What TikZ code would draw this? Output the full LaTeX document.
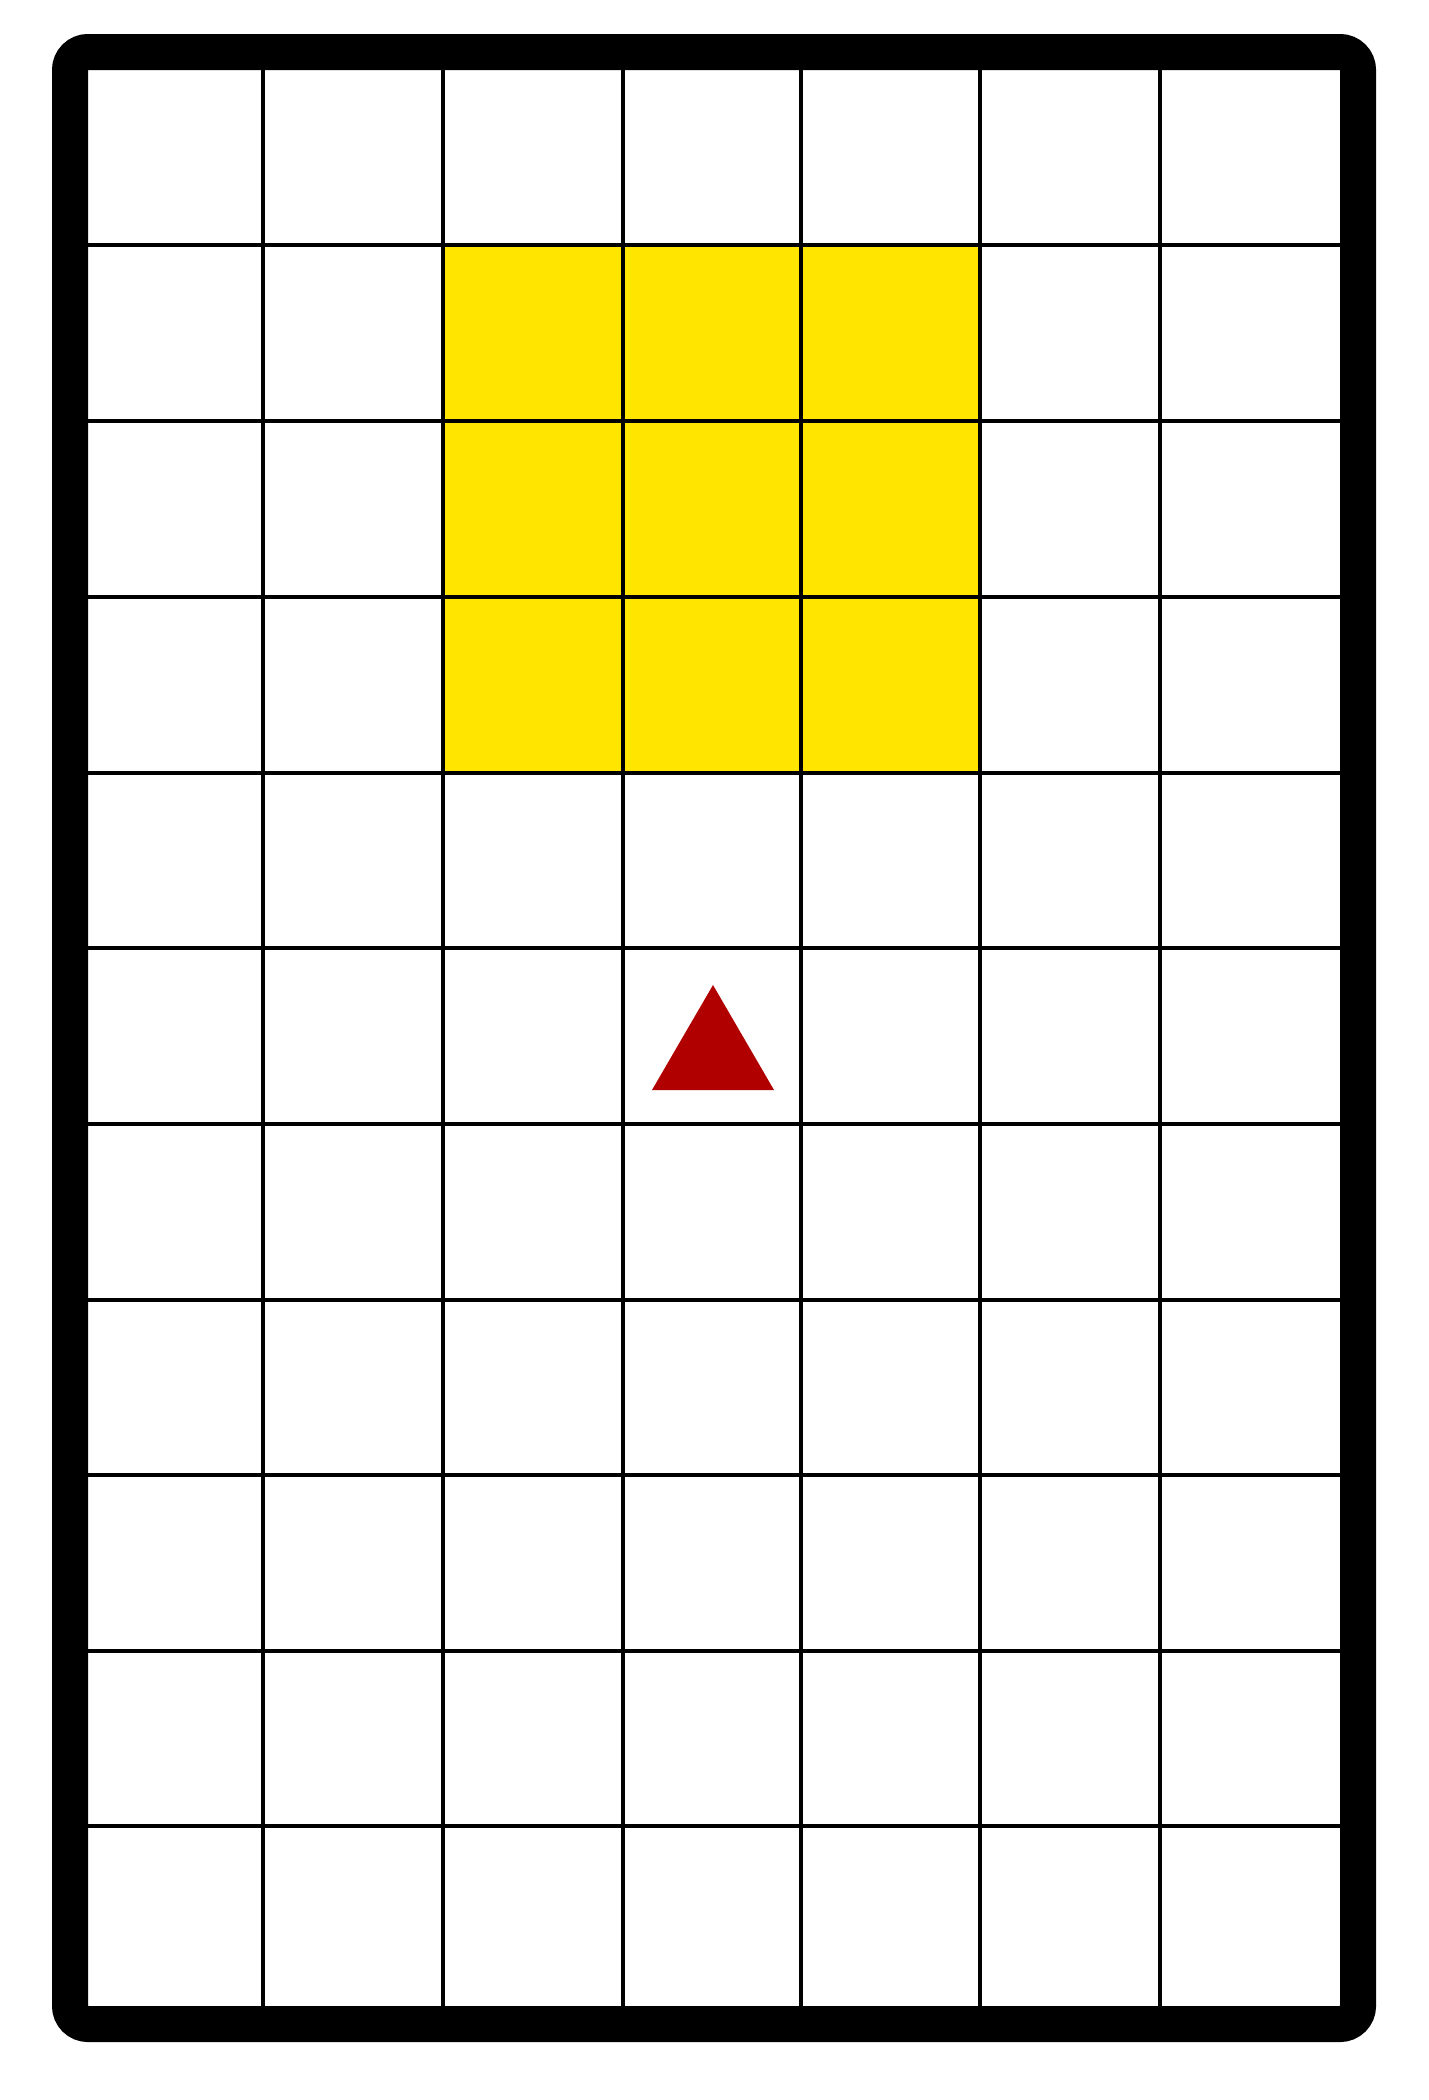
\documentclass[tikz,border=0pt]{standalone}
\usepackage{tikz}
\definecolor{cellyellow}{RGB}{255,229,0}
\definecolor{markred}{RGB}{176,0,0}
\tikzset{
  gridline/.style={black, line width=4*0.05cm},
  frameline/.style={black, line width=36*0.05cm, rounded corners=18*0.05cm},
  hilite/.style={fill=cellyellow},
  marker/.style={fill=markred}
}
\begin{document}
\begin{tikzpicture}[x=0.05cm, y=-0.05cm]
\useasboundingbox (0,0) rectangle (1428,2100);
% highlighted block
\fill[hilite] (443,245) rectangle (980,773);
% grid
\foreach \gx in {263,443,623,801,980,1160}
  \draw[gridline] (\gx,60) -- (\gx,2030);
\foreach \gy in {245,421,597,773,948,1124,1300,1475,1651,1826}
  \draw[gridline] (60,\gy) -- (1370,\gy);
% marker triangle
\fill[marker] (713,985) -- (774,1090) -- (652,1090) -- cycle;
% frame
\draw[frameline] (70,52) rectangle (1358,2024);
\end{tikzpicture}
\end{document}
